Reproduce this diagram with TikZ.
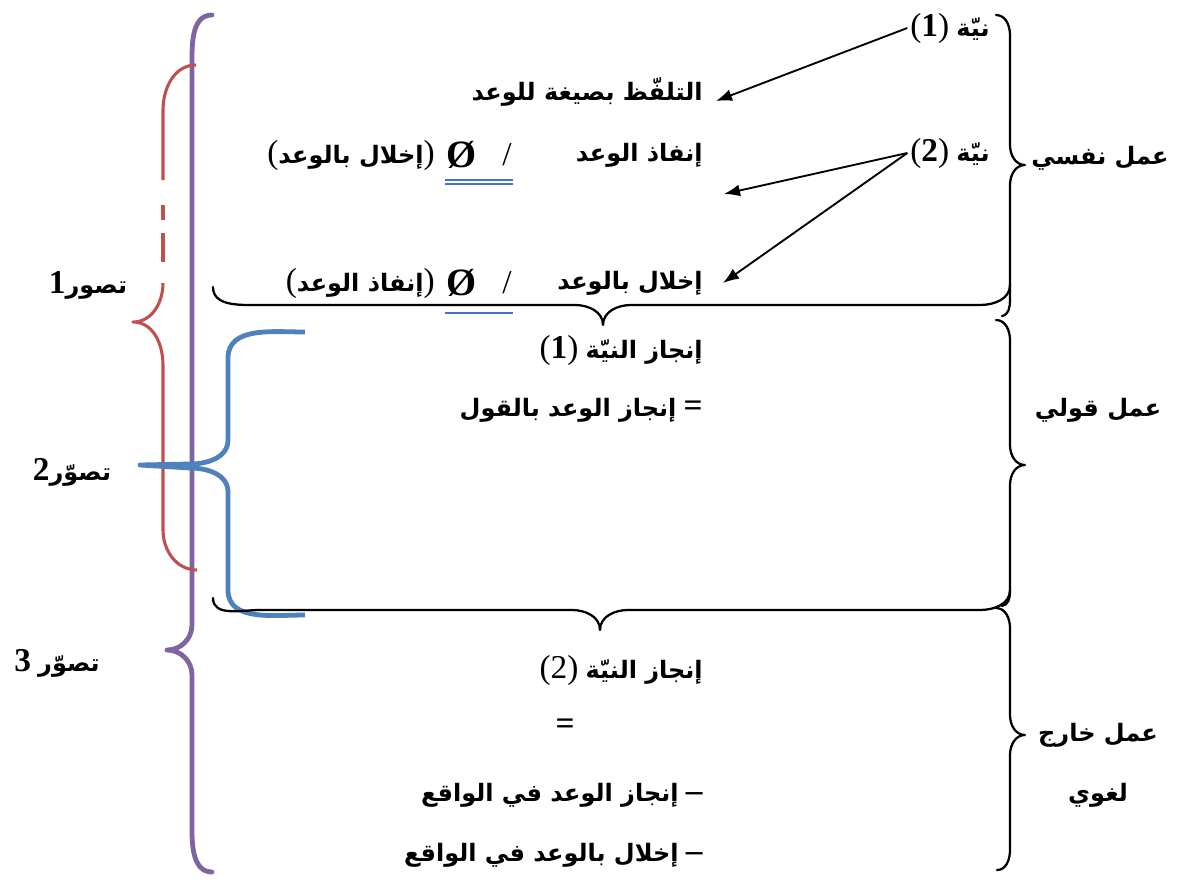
\documentclass[tikz,border=0pt]{standalone}
\usepackage{fontspec}
\usetikzlibrary{arrows.meta}
\TeXXeTstate=1
\newfontfamily\arabicfont[Script=Arabic]{DejaVu Sans}
\newfontfamily\latfont{Liberation Serif}
\newcommand{\artxt}[1]{{\arabicfont\bfseries\beginR #1\endR}}
\newcommand{\lattxt}[1]{{\latfont\fontsize{25}{29}\selectfont #1}}
\newcommand{\nulltxt}{{\latfont\bfseries\fontsize{29}{32}\selectfont Ø}}
\definecolor{cpurple}{HTML}{8064A2}
\definecolor{cred}{HTML}{C0504D}
\definecolor{cblue}{HTML}{4F81BD}
\definecolor{culine}{HTML}{4472C4}
\begin{document}
\begin{tikzpicture}[x=0.75pt,y=-0.75pt,
  txt/.style={inner sep=0pt, font=\fontsize{18}{21}\selectfont},
  rt/.style={txt, anchor=east},
  bracestyle/.style={line width=1.7pt, line join=round, line cap=round},
  arr/.style={line width=1.4pt, -{Latex[length=12pt,width=9pt]}},
  uline/.style={culine, line width=0.9pt}]
\useasboundingbox (0,0) rectangle (1183,882);
\fill[white] (0,0) rectangle (1183,882);

% ---- left coloured braces
\draw[cpurple, line width=3.6pt, line cap=round, line join=round]
  (212,15) to[out=180,in=90] (192,60) -- (192,625) to[out=-90,in=0] (167,650)
  to[out=0,in=90] (192,675) -- (192,830) to[out=-90,in=180] (212,872);
\draw[cred, line width=2.3pt]
  (196,65) to[out=180,in=90] (163,110) -- (163,180);
\draw[cred, line width=2.3pt] (163,205) -- (163,220);
\draw[cred, line width=2.3pt] (163,233) -- (163,262);
\draw[cred, line width=2.3pt, line join=round]
  (163,283) to[out=-90,in=0] (133,322) to[out=0,in=90] (163,365)
  -- (163,530) to[out=-90,in=180] (197,570);
\draw[cblue, line width=3.6pt, line join=round]
  (305,332) to[out=180,in=90] (228,358) -- (228,440) to[out=-90,in=0] (190,464)
  -- (140,465) -- (190,468) to[out=0,in=90] (228,492) -- (228,590)
  to[out=-90,in=180] (305,615);

% ---- right braces
\draw[bracestyle] (996,15) to[out=0,in=90] (1010,35) -- (1010,145)
  to[out=-90,in=180] (1025,165) to[out=180,in=90] (1010,185) -- (1010,300)
  to[out=-90,in=10] (1002,316);
\draw[bracestyle] (996,320) to[out=0,in=90] (1010,340) -- (1010,445)
  to[out=-90,in=180] (1025,465) to[out=180,in=90] (1010,485) -- (1010,592)
  to[out=-90,in=10] (1002,606);
\draw[bracestyle] (996,608) to[out=0,in=90] (1010,628) -- (1010,715)
  to[out=-90,in=180] (1025,735) to[out=180,in=90] (1010,755) -- (1010,850)
  to[out=-90,in=0] (997,870);

% ---- under braces
\draw[bracestyle] (213,287) to[out=-90,in=180] (260,305) -- (575,305)
  to[out=0,in=90] (603,325) to[out=90,in=180] (631,305) -- (980,305)
  to[out=0,in=-90] (1010,285);
\draw[bracestyle] (213,598) to[out=-90,in=180] (260,610) -- (572,610)
  to[out=0,in=90] (600,630) to[out=90,in=180] (628,610) -- (980,610)
  to[out=0,in=-90] (1010,590);

% ---- texts
\node[rt] (niyya1) at (990,28) {\lattxt{(\textbf{1})}\ \artxt{نيّة}};
\node[rt] (niyya2) at (990,153) {\lattxt{(\textbf{2})}\ \artxt{نيّة}};
\node[rt] (talaffuz) at (703,92) {\artxt{التلفّظ بصيغة للوعد}};
\node[rt] (infadh) at (703,155) {\artxt{إنفاذ الوعد}};
\node[txt] (slash1) at (507,155) {\lattxt{/}};
\node[txt] (null1) at (462,155) {\nulltxt};
\node[rt] (ikhlalp) at (435,155) {\lattxt{(}\artxt{إخلال بالوعد}\lattxt{)}};
\node[rt] (ikhlal) at (703,283) {\artxt{إخلال بالوعد}};
\node[txt] (slash2) at (507,283) {\lattxt{/}};
\node[txt] (null2) at (462,283) {\nulltxt};
\node[rt] (infadhp) at (435,283) {\lattxt{(}\artxt{إنفاذ الوعد}\lattxt{)}};
\node[rt] (injaz1) at (703,350) {\lattxt{(\textbf{1})}\ \artxt{إنجاز النيّة}};
\node[rt] (injazq) at (703,410) {\artxt{إنجاز الوعد بالقول}\ \lattxt{\textbf{=}}};
\node[rt] (injaz2) at (703,670) {\lattxt{(2)}\ \artxt{إنجاز النيّة}};
\node[txt] (eq) at (565,727) {\lattxt{\textbf{=}}};
\node[rt] (item1) at (703,795) {\artxt{إنجاز الوعد في الواقع}\ \lattxt{\textbf{–}}};
\node[rt] (item2) at (703,855) {\artxt{إخلال بالوعد في الواقع}\ \lattxt{\textbf{–}}};
\node[txt] (nafsi) at (1100,158) {\artxt{عمل نفسي}};
\node[txt] (qawli) at (1098,410) {\artxt{عمل قولي}};
\node[txt] (kharij) at (1098,735) {\artxt{عمل خارج}};
\node[txt] (lughawi) at (1098,795) {\artxt{لغوي}};
\node[txt] (tas1) at (88,285) {\lattxt{\textbf{1}}\artxt{تصور}};
\node[txt] (tas2) at (72,472) {\lattxt{\textbf{2}}\artxt{تصوّر}};
\node[txt] (tas3) at (57,663) {\lattxt{\textbf{3}}\ \artxt{تصوّر}};

% ---- underlines
\draw[uline] (445,180) -- (513,180);
\draw[uline] (445,184) -- (513,184);
\draw[uline] (445,313) -- (513,313);

% ---- arrows
\coordinate (e1) at (716,101);
\coordinate (e2) at (724,194);
\coordinate (e3) at (723,283);
\draw[arr] ([xshift=-2]niyya1.west) -- (e1);
\draw[arr] ([xshift=-2]niyya2.west) -- (e2);
\draw[arr] ([xshift=-2]niyya2.west) -- (e3);
\end{tikzpicture}
\end{document}
